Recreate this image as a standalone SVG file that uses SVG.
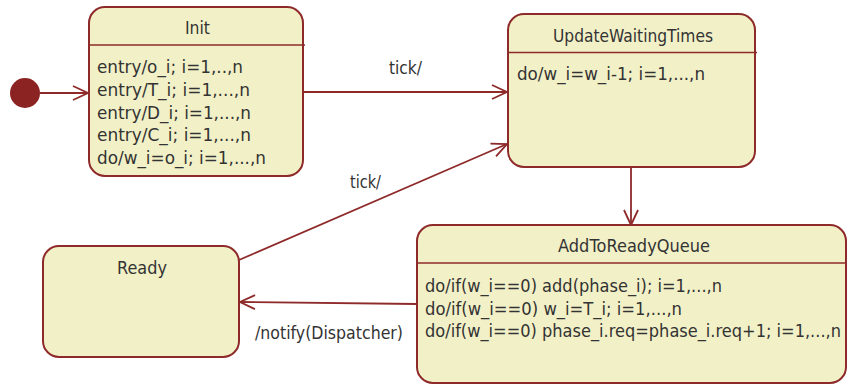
<svg xmlns="http://www.w3.org/2000/svg" width="847" height="385" viewBox="0 0 847 385">
<style>
.box{fill:#f2f0c7;stroke:#8e2a2a;stroke-width:2}
.div{stroke:#8e2a2a;stroke-width:1.6}
.t{font-family:"DejaVu Sans","Liberation Sans",sans-serif;font-size:17px;fill:#333333}
.c{text-anchor:middle}
.conn{fill:none;stroke:#8e2a2a;stroke-width:1.8}
</style>
<defs>
<marker id="arr" markerUnits="userSpaceOnUse" markerWidth="20" markerHeight="20" refX="16" refY="8" orient="auto" viewBox="0 0 20 16">
<path d="M1,1 L16,8 L1,15" fill="none" stroke="#8e2a2a" stroke-width="1.8"/>
</marker>
</defs>
<rect width="847" height="385" fill="#ffffff"/>
<g id="connectors">
<path class="conn" d="M40,93 L88,93" marker-end="url(#arr)"/>
<path class="conn" d="M303,92 L507,92" marker-end="url(#arr)"/>
<path class="conn" d="M239,260 L507,144" marker-end="url(#arr)"/>
<path class="conn" d="M631,167 L631,225" marker-end="url(#arr)"/>
<path class="conn" d="M417,304 L240,302" marker-end="url(#arr)"/>
<text class="t" x="389" y="74" textLength="33" lengthAdjust="spacingAndGlyphs">tick/</text>
<text class="t" x="350" y="188" textLength="31" lengthAdjust="spacingAndGlyphs">tick/</text>
<text class="t" x="255" y="339" textLength="148" lengthAdjust="spacingAndGlyphs">/notify(Dispatcher)</text>
</g>
<g id="initial">
<circle cx="25" cy="93" r="15" fill="#8b2323"/>
</g>
<g id="Init">
<rect class="box" x="89" y="7" width="214" height="169" rx="16"/>
<line class="div" x1="89" y1="45" x2="305" y2="45"/>
<text class="t" x="185" y="34" textLength="25" lengthAdjust="spacingAndGlyphs">Init</text>
<text class="t" x="97" y="73" textLength="146" lengthAdjust="spacingAndGlyphs">entry/o_i; i=1,..,n</text>
<text class="t" x="97" y="96" textLength="153" lengthAdjust="spacingAndGlyphs">entry/T_i; i=1,...,n</text>
<text class="t" x="97" y="118.5" textLength="154" lengthAdjust="spacingAndGlyphs">entry/D_i; i=1,...,n</text>
<text class="t" x="97" y="141" textLength="154" lengthAdjust="spacingAndGlyphs">entry/C_i; i=1,...,n</text>
<text class="t" x="97" y="164" textLength="169" lengthAdjust="spacingAndGlyphs">do/w_i=o_i; i=1,...,n</text>
</g>
<g id="UpdateWaitingTimes">
<rect class="box" x="508" y="14" width="247" height="153" rx="16"/>
<line class="div" x1="508" y1="52.5" x2="757" y2="52.5"/>
<text class="t" x="553" y="42" textLength="160" lengthAdjust="spacingAndGlyphs">UpdateWaitingTimes</text>
<text class="t" x="517" y="80" textLength="188" lengthAdjust="spacingAndGlyphs">do/w_i=w_i-1; i=1,...,n</text>
</g>
<g id="Ready">
<rect class="box" x="43" y="246" width="196" height="111" rx="16"/>
<text class="t" x="117" y="274" textLength="50" lengthAdjust="spacingAndGlyphs">Ready</text>
</g>
<g id="AddToReadyQueue">
<rect class="box" x="417" y="225" width="429" height="158" rx="16"/>
<line class="div" x1="417" y1="263" x2="846" y2="263"/>
<text class="t" x="558" y="252" textLength="152" lengthAdjust="spacingAndGlyphs">AddToReadyQueue</text>
<text class="t" x="425" y="292" textLength="297" lengthAdjust="spacingAndGlyphs">do/if(w_i==0) add(phase_i); i=1,...,n</text>
<text class="t" x="425" y="314.5" textLength="257" lengthAdjust="spacingAndGlyphs">do/if(w_i==0) w_i=T_i; i=1,...,n</text>
<text class="t" x="425" y="337" textLength="416" lengthAdjust="spacingAndGlyphs">do/if(w_i==0) phase_i.req=phase_i.req+1; i=1,...,n</text>
</g>
</svg>
